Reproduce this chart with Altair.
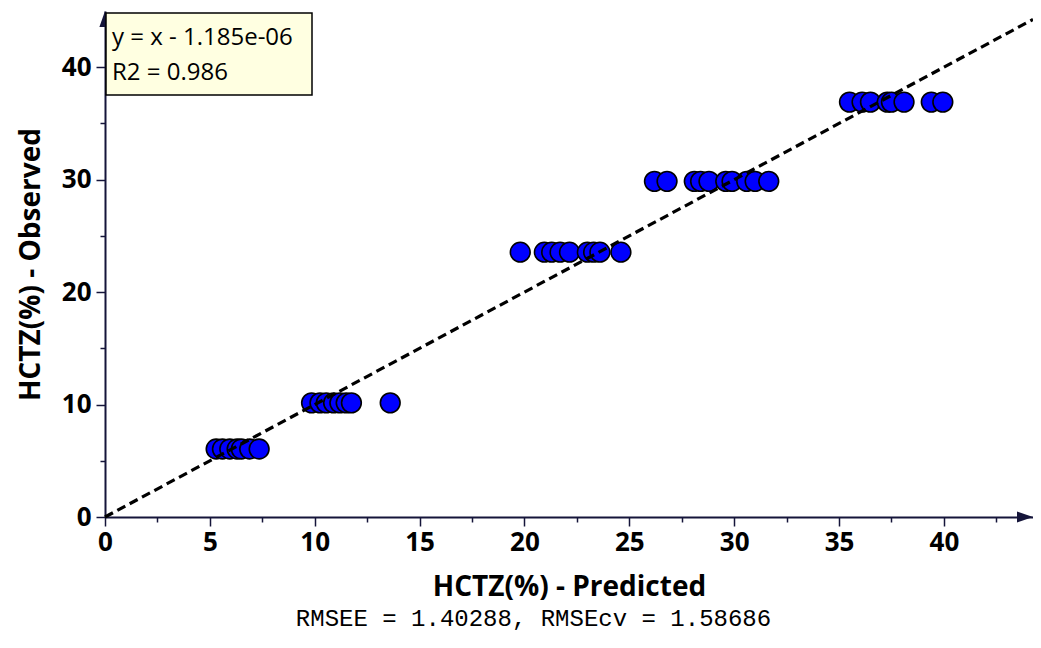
import altair as alt
import pandas as pd

# ---- data ----
obs_levels = [6.05, 10.15, 23.55, 29.85, 36.9]
pred_a = [5.3, 5.6, 5.95, 6.3, 6.5, 6.9, 7.35]
pred_b = [9.85, 10.25, 10.55, 10.9, 11.2, 11.5, 11.75, 13.6]
pred_c = [19.8, 20.95, 21.3, 21.7, 22.15, 23.0, 23.3, 23.6, 24.6]
pred_d = [26.2, 26.8, 28.1, 28.4, 28.8, 29.6, 29.9, 30.6, 31.0, 31.65]
pred_e = [35.5, 36.1, 36.5, 37.3, 37.5, 38.1, 39.4, 39.95]

x_ticks = [0, 2.5, 5, 7.5, 10, 12.5, 15, 17.5, 20, 22.5, 25, 27.5, 30, 32.5, 35, 37.5, 40, 42.5]
y_ticks = [0, 2.5, 5, 7.5, 10, 12.5, 15, 17.5, 20, 22.5, 25, 27.5, 30, 32.5, 35, 37.5, 40, 42.5]

eq_text = "y = x - 1.185e-06"
r2_text = "R2 = 0.986"
rmse_text = "RMSEE = 1.40288, RMSEcv = 1.58686"
x_title = "HCTZ(%) - Predicted"
y_title = "HCTZ(%) - Observed"

X_MAX = 44.25
Y_MAX = 45.0
fit_line_x = [0, X_MAX]
W = 928
H = 506
AXIS_COLOR = "#15153a"
FONT = "Open Sans"

rows = []
for lvl, preds in zip(obs_levels, [pred_a, pred_b, pred_c, pred_d, pred_e]):
    for p in preds:
        rows.append({"pred": p, "obs": lvl})
pts = pd.DataFrame(rows)
line_df = pd.DataFrame({"pred": fit_line_x, "obs": fit_line_x})

xs = alt.Scale(domain=[0, X_MAX], nice=False, zero=False)
ys = alt.Scale(domain=[0, Y_MAX], nice=False, zero=False)

x_axis = alt.Axis(
    values=x_ticks,
    labelExpr="datum.value % 5 === 0 ? datum.label : ''",
    tickSize={"condition": {"test": "datum.value % 5 === 0", "value": 9}, "value": 5},
    grid=False,
    domainColor=AXIS_COLOR, domainWidth=2,
    tickColor=AXIS_COLOR, tickWidth=1.5,
    labelFont=FONT, labelFontSize=26, labelFontWeight="bold", labelColor="black",
    labelPadding=3, labelFlush=False, labelOverlap=False,
    title=x_title, titleFont=FONT, titleFontSize=28, titleFontWeight="bold",
    titleColor="black", titlePadding=18,
)
y_axis = alt.Axis(
    values=y_ticks,
    labelExpr="datum.value % 10 === 0 ? datum.label : ''",
    tickSize={"condition": {"test": "datum.value % 10 === 0", "value": 9}, "value": 5},
    grid=False,
    domainColor=AXIS_COLOR, domainWidth=2,
    tickColor=AXIS_COLOR, tickWidth=1.5,
    labelFont=FONT, labelFontSize=26, labelFontWeight="bold", labelColor="black",
    labelPadding=5, labelFlush=False, labelOverlap=False,
    title=y_title, titleFont=FONT, titleFontSize=28, titleFontWeight="bold",
    titleColor="black", titlePadding=16,
)

points = alt.Chart(pts).mark_circle(
    size=390, fill="#0000ff", stroke="black", strokeWidth=1.6, opacity=1
).encode(
    x=alt.X("pred:Q", scale=xs, axis=x_axis),
    y=alt.Y("obs:Q", scale=ys, axis=y_axis),
)

fit = alt.Chart(line_df).mark_line(
    color="black", strokeWidth=3.2, strokeDash=[9, 5], clip=False
).encode(x=alt.X("pred:Q", scale=xs), y=alt.Y("obs:Q", scale=ys))

x_arrow = alt.Chart(pd.DataFrame({"pred": [X_MAX], "obs": [0]})).mark_point(
    shape="M-2,-0.7L0,0L-2,0.7Z", filled=True, size=256, color=AXIS_COLOR, opacity=1
).encode(x=alt.X("pred:Q", scale=xs), y=alt.Y("obs:Q", scale=ys))

y_arrow = alt.Chart(pd.DataFrame({"pred": [0], "obs": [Y_MAX]})).mark_point(
    shape="M-0.7,2L0,0L0.7,2Z", filled=True, size=256, color=AXIS_COLOR, opacity=1
).encode(x=alt.X("pred:Q", scale=xs), y=alt.Y("obs:Q", scale=ys))

one = pd.DataFrame({"k": [0]})
box = alt.Chart(one).mark_rect(
    fill="#ffffe1", stroke="black", strokeWidth=1.5
).encode(x=alt.value(1), x2=alt.value(207), y=alt.value(2), y2=alt.value(84))

eq = alt.Chart(one).mark_text(
    align="left", baseline="alphabetic", font=FONT, fontSize=24, color="black"
).encode(x=alt.value(7), y=alt.value(34), text=alt.value(eq_text))

r2 = alt.Chart(one).mark_text(
    align="left", baseline="alphabetic", font=FONT, fontSize=24, color="black"
).encode(x=alt.value(7), y=alt.value(69), text=alt.value(r2_text))

rmse = alt.Chart(one).mark_text(
    align="center", baseline="alphabetic", font="Liberation Mono", fontSize=24, color="black"
).encode(x=alt.value(428.5), y=alt.value(615), text=alt.value(rmse_text))

chart = alt.layer(points, fit, x_arrow, y_arrow, box, eq, r2, rmse).properties(
    width=W, height=H,
    autosize=alt.AutoSizeParams(type="none"),
    padding={"left": 97, "top": 3, "right": 0, "bottom": 117},
    background="white",
).configure_view(stroke=None)

chart.save("out.html", embed_options={"renderer": "svg", "actions": False})
